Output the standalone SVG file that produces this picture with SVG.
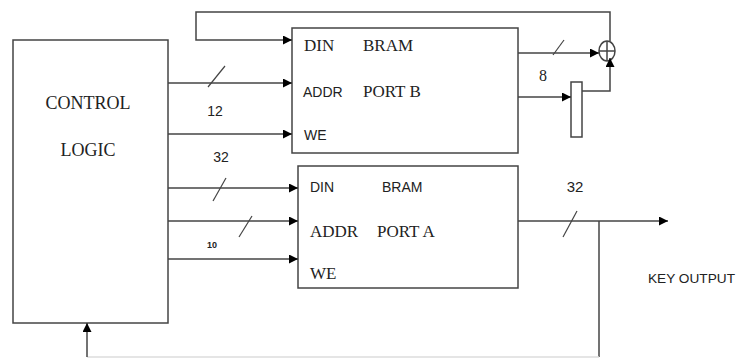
<svg xmlns="http://www.w3.org/2000/svg" width="739" height="358" viewBox="0 0 739 358">
<defs>
<marker id="ah" viewBox="0 0 10 10" refX="10" refY="5" markerWidth="9" markerHeight="9" markerUnits="userSpaceOnUse" orient="auto">
<path d="M0,0 L10,5 L0,10 z" fill="#000"/>
</marker>
</defs>
<style>
.box{fill:#fff;stroke:#444;stroke-width:1.5}
.ln{fill:none;stroke:#444;stroke-width:1.5}
.sl{fill:none;stroke:#444;stroke-width:1.2}
.serif{font-family:"Liberation Serif",serif;fill:#222}
.sans{font-family:"Liberation Sans",sans-serif;fill:#222}
</style>
<rect width="739" height="358" fill="#fff"/>
<g id="control-logic">
<rect class="box" x="13" y="40" width="155" height="283"/>
<text class="serif" x="88" y="109" font-size="18" text-anchor="middle">CONTROL</text>
<text class="serif" x="88" y="156" font-size="18" text-anchor="middle">LOGIC</text>
</g>
<g id="bram-port-b">
<rect class="box" x="292" y="28" width="226" height="125"/>
<text class="serif" x="304" y="51" font-size="17">DIN</text>
<text class="serif" x="363" y="51" font-size="17">BRAM</text>
<text class="sans" x="303" y="97" font-size="14">ADDR</text>
<text class="serif" x="363" y="97" font-size="17">PORT B</text>
<text class="sans" x="304" y="140" font-size="14">WE</text>
</g>
<g id="bram-port-a">
<rect class="box" x="298" y="166" width="220" height="122"/>
<text class="sans" x="310" y="192" font-size="14">DIN</text>
<text class="sans" x="382" y="192" font-size="14">BRAM</text>
<text class="serif" x="310" y="237" font-size="17">ADDR</text>
<text class="serif" x="377" y="237" font-size="17">PORT A</text>
<text class="serif" x="310" y="279" font-size="17">WE</text>
</g>
<g id="register">
<rect class="box" x="571" y="82" width="11" height="55"/>
</g>
<g id="xor">
<ellipse class="ln" cx="607" cy="51" rx="8" ry="10"/>
<line class="ln" x1="607" y1="41" x2="607" y2="61"/>
<line class="ln" x1="599" y1="51" x2="615" y2="51"/>
</g>
<g id="connectors">
<polyline class="ln" points="610,41 610,12 196,12 196,40 292,40" marker-end="url(#ah)"/>
<line class="ln" x1="168" y1="83" x2="292" y2="83" marker-end="url(#ah)"/>
<line class="sl" x1="208" y1="87" x2="225" y2="66"/>
<line class="ln" x1="168" y1="134" x2="292" y2="134" marker-end="url(#ah)"/>
<line class="ln" x1="518" y1="53" x2="599" y2="53" marker-end="url(#ah)"/>
<line class="sl" x1="553" y1="55" x2="564" y2="40"/>
<line class="ln" x1="518" y1="97" x2="571" y2="97" marker-end="url(#ah)"/>
<polyline class="ln" points="582,91 610,91 610,58" marker-end="url(#ah)"/>
<line class="ln" x1="168" y1="188" x2="298" y2="188" marker-end="url(#ah)"/>
<line class="sl" x1="213" y1="201" x2="226" y2="178"/>
<line class="ln" x1="168" y1="221" x2="298" y2="221" marker-end="url(#ah)"/>
<line class="sl" x1="239" y1="237" x2="252" y2="216"/>
<line class="ln" x1="168" y1="259" x2="298" y2="259" marker-end="url(#ah)"/>
<line class="ln" x1="518" y1="221" x2="668" y2="221" marker-end="url(#ah)"/>
<line class="sl" x1="563" y1="237" x2="577" y2="211"/>
<line class="ln" x1="599" y1="221" x2="599" y2="357"/>
<line x1="87" y1="357" x2="599" y2="357" stroke="#ddd" stroke-width="1.5"/>
<line class="ln" x1="87" y1="357" x2="87" y2="323" marker-end="url(#ah)"/>
</g>
<g id="labels">
<text class="sans" x="215" y="116" font-size="14" text-anchor="middle">12</text>
<text class="sans" x="221" y="162" font-size="14" text-anchor="middle">32</text>
<text class="sans" x="212" y="248" font-size="9" font-weight="bold" text-anchor="middle">10</text>
<text class="serif" x="543" y="81" font-size="16" text-anchor="middle">8</text>
<text class="sans" x="575" y="192" font-size="15" text-anchor="middle">32</text>
<text class="sans" x="648" y="283" font-size="13" textLength="87" lengthAdjust="spacingAndGlyphs">KEY OUTPUT</text>
</g>
</svg>
